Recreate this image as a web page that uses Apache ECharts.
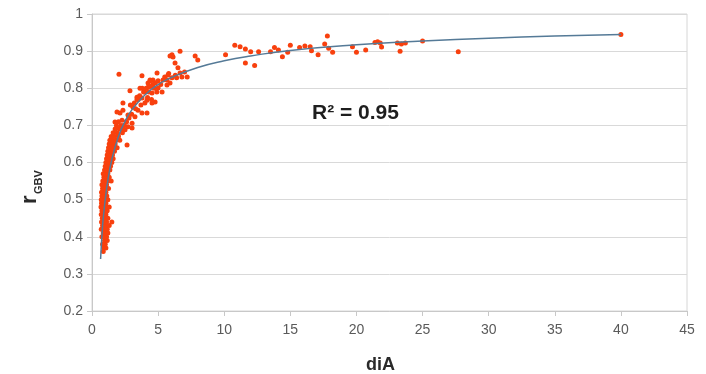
<!DOCTYPE html>
<html>
<head>
<meta charset="utf-8">
<script src="https://cdn.jsdelivr.net/npm/echarts@6/dist/echarts.min.js"></script>
<style>
html,body{margin:0;padding:0;background:#fff;}
#chart{width:706px;height:374px;}
</style>
</head>
<body>
<div id="chart"></div>
<script>
// Steep cluster of measurements (diA, rGBV)
const clusterPoints = [
  [0.85,0.36],[0.9,0.37],[1.05,0.37],[0.8,0.38],[1.0,0.38],[0.95,0.39],[1.15,0.39],
  [0.75,0.40],[0.9,0.40],[1.1,0.40],[0.85,0.41],[1.05,0.41],[1.2,0.41],
  [0.7,0.42],[0.95,0.42],[1.15,0.42],[0.8,0.43],[1.0,0.43],[1.3,0.43],
  [0.72,0.44],[0.9,0.44],[1.1,0.44],[1.5,0.44],[0.78,0.45],[1.0,0.45],[1.2,0.45],
  [0.7,0.46],[0.88,0.46],[1.05,0.46],[0.75,0.47],[0.95,0.47],[1.15,0.47],
  [0.68,0.48],[0.85,0.48],[1.1,0.48],[1.3,0.48],[0.72,0.49],[0.92,0.49],[1.05,0.49],
  [0.7,0.50],[0.82,0.50],[1.0,0.50],[1.2,0.50],[0.75,0.51],[0.95,0.51],[1.12,0.51],
  [0.72,0.52],[0.88,0.52],[1.05,0.52],[0.8,0.53],[1.0,0.53],[1.25,0.53],
  [0.75,0.54],[0.9,0.54],[1.1,0.54],[0.82,0.55],[1.0,0.55],[1.2,0.55],[1.45,0.55],
  [0.9,0.56],[1.08,0.56],[1.3,0.56],[0.85,0.57],[1.0,0.57],[1.2,0.57],
  [0.95,0.58],[1.15,0.58],[1.35,0.58],[1.0,0.59],[1.2,0.59],[1.4,0.59],
  [1.05,0.60],[1.25,0.60],[1.5,0.60],[1.1,0.61],[1.3,0.61],[1.6,0.61],
  [1.15,0.62],[1.35,0.62],[1.55,0.62],[1.2,0.63],[1.45,0.63],[1.7,0.63],
  [1.25,0.64],[1.4,0.64],[1.6,0.64],[1.9,0.64],[1.3,0.65],[1.5,0.65],[1.75,0.65],
  [1.35,0.66],[1.55,0.66],[1.8,0.66],[2.1,0.66],[1.45,0.67],[1.7,0.67],[2.0,0.67],
  [1.6,0.68],[1.9,0.68],[2.3,0.68],[1.75,0.69],[2.1,0.69],[1.85,0.70],[2.2,0.70],[2.45,0.70],
  [2.0,0.71],[2.6,0.71]
];
const midPoints = [
  [2.04,0.838],[3.78,0.834],[4.92,0.841],[2.87,0.793],[2.34,0.760],[1.89,0.736],[2.12,0.733],
  [1.74,0.709],[1.89,0.693],[2.65,0.647],[2.72,0.696],[4.16,0.733],[4.77,0.763],[5.3,0.790],
  [5.67,0.809],[6.05,0.828],[4.54,0.787],[4.0,0.760],[3.48,0.741],[3.25,0.723],[3.03,0.706],
  [2.5,0.688],[4.24,0.814],[4.61,0.822],[5.0,0.801],[5.37,0.822],[3.78,0.774],[3.1,0.749],
  [2.72,0.728],[2.27,0.714],[1.97,0.674],[1.59,0.655],[1.51,0.634],[1.36,0.615],
  [4.39,0.822],[4.24,0.803],[3.63,0.80],[3.4,0.776],[4.16,0.768],[4.54,0.76],[3.78,0.733],
  [2.34,0.741],[3.03,0.693],[1.51,0.642],
  [3.2,0.76],[3.5,0.77],[3.6,0.78],[3.9,0.79],[4.1,0.80],[4.3,0.79],[4.4,0.805],[4.6,0.81],
  [4.8,0.815],[5.0,0.82],[5.2,0.81],[3.0,0.73],[2.8,0.72],[2.6,0.71],[2.4,0.70],[2.2,0.69],
  [3.3,0.745],[3.7,0.755],[4.2,0.775],[4.5,0.77],[4.9,0.79],[5.5,0.83],[5.8,0.84],[6.3,0.835],
  [4.0,0.79],[3.4,0.77],[2.9,0.755],[3.8,0.80],[4.4,0.82],[4.7,0.80]
];
const farPoints = [
  [5.75,0.836],[5.67,0.822],[5.9,0.814],[6.28,0.868],[6.13,0.884],[6.66,0.900],[6.05,0.890],
  [6.5,0.855],[6.66,0.841],[6.8,0.830],[7.0,0.844],[7.2,0.830],[6.4,0.828],[7.8,0.887],
  [8.0,0.876],[5.9,0.887],[10.1,0.890],[11.6,0.868],[10.8,0.916],[11.2,0.912],[11.6,0.906],
  [12.0,0.898],[12.3,0.861],[12.6,0.898],[13.5,0.898],[13.8,0.910],[14.1,0.903],[14.4,0.885],
  [15.0,0.916],[14.8,0.897],[15.7,0.910],[16.1,0.914],[16.5,0.912],[16.6,0.901],[17.1,0.890],
  [17.6,0.919],[17.8,0.941],[17.9,0.908],[18.2,0.897],[19.7,0.912],[20.0,0.897],[20.7,0.903],
  [21.6,0.925],[21.4,0.923],[21.8,0.922],[21.9,0.911],[23.1,0.922],[23.4,0.919],[23.7,0.922],
  [23.3,0.900],[25.0,0.927],[27.7,0.898],[40.0,0.945]
];
// Trend line
const trendX = [0.65,0.8,0.9,1,1.2,1.5,2,2.5,3,4,5,6,8,10,12,15,20,25,30,35,40];
const trendY = [0.34,0.43,0.467,0.5,0.552,0.608,0.67,0.711,0.741,0.782,0.81,0.829,0.856,0.874,0.887,0.902,0.917,0.927,0.935,0.941,0.945];
const xName = 'diA';
const yNameMain = 'r';
const yNameSub = 'GBV';
const r2Text = 'R\u00b2 = 0.95';

const chart = echarts.init(document.getElementById('chart'), null, {renderer:'canvas'});
const labelFont = 'Liberation Sans';
chart.setOption({
  animation: false,
  backgroundColor: '#fff',
  grid: {left: 92, right: 19, top: 14, bottom: 63, show: true, borderColor: '#d6d6d6', borderWidth: 1},
  xAxis: {
    type: 'value', min: 0, max: 45, interval: 5,
    axisLine: {show: true, lineStyle: {color: '#c8c8c8'}},
    axisTick: {show: true, length: 5, lineStyle: {color: '#c8c8c8'}},
    axisLabel: {color: '#5a5a5a', fontSize: 14, fontFamily: labelFont, margin: 12},
    splitLine: {show: false}
  },
  yAxis: {
    type: 'value', min: 0.2, max: 1, interval: 0.1,
    axisLine: {show: true, lineStyle: {color: '#c8c8c8'}},
    axisTick: {show: true, length: 5, lineStyle: {color: '#c8c8c8'}},
    axisLabel: {color: '#5a5a5a', fontSize: 14, fontFamily: labelFont, margin: 9},
    splitLine: {show: true, lineStyle: {color: '#d9d9d9'}}
  },
  graphic: [
    {type: 'text', left: 366, top: 356, style: {text: xName, font: 'bold 18px "Liberation Sans"', fill: '#2a2a2a'}},
    {type: 'group', x: 41, y: 204, rotation: Math.PI / 2, children: [
      {type: 'text', x: 0, y: 0, style: {text: yNameMain, font: 'bold 22px "Liberation Sans"', fill: '#2a2a2a', textAlign: 'left', textVerticalAlign: 'bottom'}},
      {type: 'text', x: 10, y: 3, style: {text: yNameSub, font: 'bold 11px "Liberation Sans"', fill: '#2a2a2a', textAlign: 'left', textVerticalAlign: 'bottom'}}
    ]},
    {type: 'text', left: 312, top: 103, style: {text: r2Text, font: 'bold 21px "Liberation Sans"', fill: '#1e1e1e'}}
  ],
  series: [
    {type: 'scatter', data: clusterPoints.concat(midPoints, farPoints), symbolSize: 5,
     itemStyle: {color: '#f8400e', opacity: 1}},
    {type: 'line', data: trendX.map((x, i) => [x, trendY[i]]), smooth: true, showSymbol: false,
     lineStyle: {color: '#557a97', width: 1.5}, z: 3}
  ]
});
</script>
</body>
</html>
